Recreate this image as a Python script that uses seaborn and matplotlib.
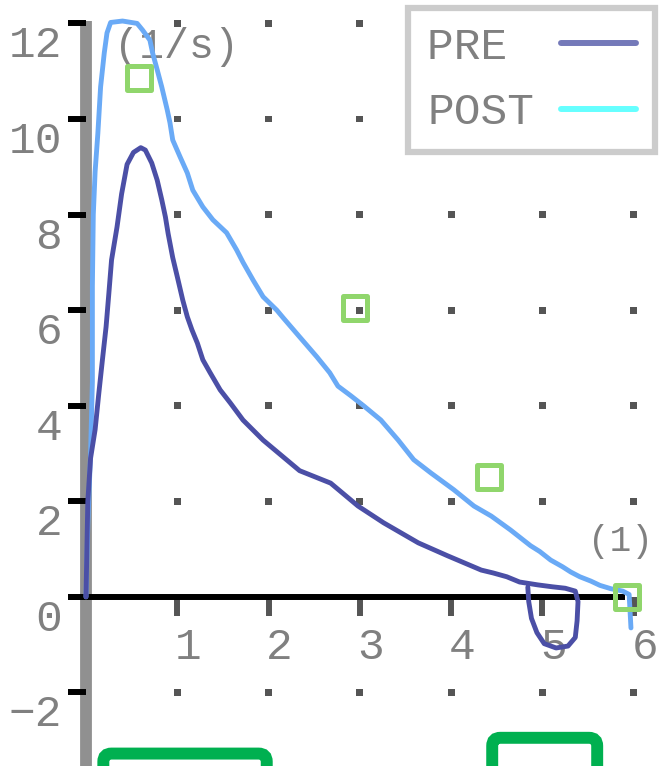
import numpy as np
import pandas as pd
import seaborn as sns
import matplotlib.pyplot as plt
from matplotlib.lines import Line2D
from matplotlib.patches import FancyBboxPatch

# DATA
pre_x = [0.0, 0.01, 0.02, 0.05, 0.10, 0.14, 0.18, 0.22, 0.25, 0.28, 0.34, 0.39, 0.45, 0.52, 0.60,
         0.65, 0.72, 0.78, 0.83, 0.87, 0.90, 0.95, 1.00, 1.06, 1.11, 1.16, 1.22, 1.28, 1.36, 1.47,
         1.58, 1.72, 1.94, 2.34, 2.68, 2.98, 3.26, 3.64, 3.96, 4.33, 4.46, 4.61, 4.75, 4.95, 5.11,
         5.25, 5.36, 5.39, 5.38, 5.36, 5.28, 5.15, 5.02, 4.94, 4.88, 4.85, 4.84]
pre_y = [0.0, 1.0, 2.0, 2.9, 3.5, 4.25, 4.96, 5.65, 6.34, 7.05, 7.74, 8.43, 9.05, 9.3, 9.4,
         9.35, 9.08, 8.72, 8.31, 7.95, 7.6, 7.1, 6.7, 6.21, 5.86, 5.59, 5.31, 4.96, 4.69, 4.33,
         4.06, 3.70, 3.28, 2.64, 2.38, 1.90, 1.55, 1.13, 0.86, 0.56, 0.50, 0.42, 0.31, 0.25, 0.21,
         0.18, 0.12, -0.1, -0.5, -0.85, -1.03, -1.07, -0.98, -0.75, -0.45, -0.1, 0.2]

post_x = [0.0, 0.02, 0.05, 0.07, 0.07, 0.08, 0.10, 0.13, 0.16, 0.20, 0.23, 0.27, 0.40, 0.56, 0.62,
          0.70, 0.73, 0.78, 0.83, 0.89, 0.92, 0.95, 1.03, 1.11, 1.17, 1.28, 1.39, 1.54, 1.65, 1.72,
          1.83, 1.94, 2.09, 2.16, 2.34, 2.53, 2.67, 2.76, 2.90, 3.04, 3.23, 3.42, 3.59, 3.78, 4.03,
          4.25, 4.44, 4.65, 4.87, 4.97, 5.09, 5.22, 5.31, 5.41, 5.53, 5.63, 5.75, 5.88, 5.95, 5.96,
          5.97]
post_y = [0.0, 1.5, 3.0, 4.5, 6.5, 8.0, 8.9, 9.7, 10.67, 11.38, 11.8, 12.02, 12.05, 12.0, 11.86,
          11.65, 11.38, 11.03, 10.67, 10.19, 9.92, 9.56, 9.21, 8.87, 8.51, 8.16, 7.89, 7.62, 7.26, 7.0,
          6.63, 6.28, 6.0, 5.84, 5.44, 5.02, 4.69, 4.41, 4.21, 4.00, 3.70, 3.28, 2.87, 2.59, 2.24,
          1.90, 1.69, 1.40, 1.07, 0.95, 0.77, 0.63, 0.52, 0.42, 0.33, 0.24, 0.17, 0.12, 0.05, -0.3,
          -0.65]

sq_x = [0.58, 2.95, 4.41, 5.93]
sq_y = [10.86, 6.05, 2.51, 0.0]

grid_x = [1, 2, 3, 4, 5, 6]
grid_y = [-2, 2, 4, 6, 8, 10, 12]
ytick_vals = [12, 10, 8, 6, 4, 2, 0, -2]
ytick_labels = ['12', '10', '8', '6', '4', '2', '0', '\u22122']
xtick_vals = [1, 2, 3, 4, 5, 6]
xtick_labels = ['1', '2', '3', '4', '5', '6']
legend_labels = ['PRE', 'POST']

sns.set_style('white')
plt.rcParams['font.family'] = ['Liberation Mono', 'DejaVu Sans Mono']
txt_color = '#808080'
fs = 32

fig = plt.figure(figsize=(6.62, 7.66), dpi=100)
ax = fig.add_axes([0, 0, 1, 1])
ax.set_xlim(-0.942, 6.31)
ax.set_ylim(-3.54, 12.49)
ax.axis('off')

# dotted grid
gx, gy = np.meshgrid(grid_x, grid_y)
dots = pd.DataFrame({'x': gx.ravel(), 'y': gy.ravel()})
sns.scatterplot(data=dots, x='x', y='y', marker='s', s=25, color='#555555',
                edgecolor='none', ax=ax, zorder=1)

# axes drawn by hand
ax.vlines(0, -4, 12.05, color='#909090', lw=8.5, zorder=2)
ax.hlines(ytick_vals, -0.2, 0, color='black', lw=4.3, zorder=3)
ax.hlines(0, -0.2, 5.9, color='black', lw=4.3, zorder=3)
ax.vlines(xtick_vals, -0.4, 0, color='#555555', lw=4.3, zorder=2)

for v, lab in zip(ytick_vals, ytick_labels):
    ax.text(-0.26, v - 0.47, lab, ha='right', va='center', fontsize=fs, color=txt_color)
for v, lab in zip(xtick_vals, xtick_labels):
    ax.text(v + 0.12, -1.07, lab, ha='center', va='center', fontsize=fs, color=txt_color)

ax.text(0.99, 11.5, '(1/s)', ha='center', va='center', fontsize=fs - 2, color=txt_color, zorder=2)
ax.text(5.5, 1.15, '(1)', ha='left', va='center', fontsize=fs - 6, color=txt_color, zorder=2)

# curves
pre = pd.DataFrame({'x': pre_x, 'y': pre_y})
post = pd.DataFrame({'x': post_x, 'y': post_y})
sns.lineplot(data=post, x='x', y='y', sort=False, estimator=None, color='#6aaaf6',
             lw=3.5, ax=ax, zorder=5)
sns.lineplot(data=pre, x='x', y='y', sort=False, estimator=None, color='#4b4fa6',
             lw=3.5, ax=ax, zorder=5)

sns.scatterplot(x=sq_x, y=sq_y, marker='s', s=300, facecolor='none', edgecolor='#90d66c',
                linewidth=3.6, ax=ax, zorder=6)

# green boxes at the bottom (cut off)
for x0, x1, top in [(0.19, 1.98, -3.28), (4.45, 5.60, -2.95)]:
    box = FancyBboxPatch((x0, -5.0), x1 - x0, top + 5.0,
                         boxstyle='round,pad=0,rounding_size=0.09', mutation_aspect=1.9,
                         fc='none', ec='#00b050', lw=8.6, zorder=4)
    ax.add_patch(box)

# legend: text before the line, labels padded so they line up on the left
handles = [Line2D([], [], color='#7479b9', lw=4.3), Line2D([], [], color='#66ffff', lw=4.3)]
width = max(len(s) for s in legend_labels)
leg = ax.legend(handles, [s.ljust(width) for s in legend_labels], loc='upper right',
                bbox_to_anchor=(655 / 662, 1 - 8 / 766),
                prop={'family': ['Liberation Mono'], 'size': fs}, markerfirst=False,
                frameon=True, fancybox=False, framealpha=1, edgecolor='#cccccc',
                borderpad=0.42, labelspacing=0.55, handlelength=1.7, handletextpad=0.6,
                borderaxespad=0, labelcolor=txt_color)
leg.get_frame().set_linewidth(4.5)

fig.savefig('out.png', dpi=100)
